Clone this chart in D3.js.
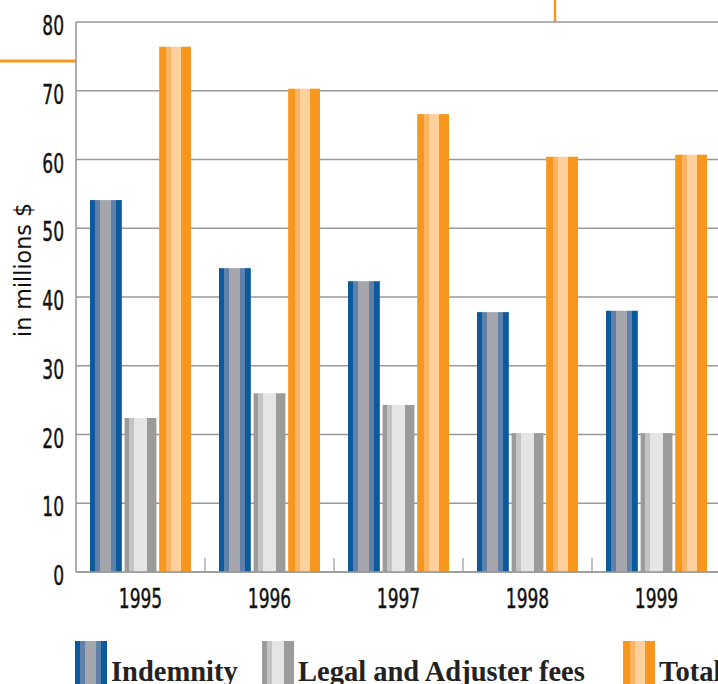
<!DOCTYPE html>
<html>
<head>
<meta charset="utf-8">
<script src="https://cdn.jsdelivr.net/npm/d3@7"></script>
<style>
  body { margin: 0; background: #fff; }
  svg { display: block; }
</style>
</head>
<body>
<div id="chart"></div>
<script>
const years = ['1995', '1996', '1997', '1998', '1999'];
const series = ['Indemnity', 'Legal and Adjuster fees', 'Total'];
const indemnity = [54.1, 44.2, 42.3, 37.8, 38.0];
const legalFees = [22.4, 26.0, 24.3, 20.2, 20.2];
const total = [76.4, 70.3, 66.6, 60.4, 60.7];
const yTicks = [0, 10, 20, 30, 40, 50, 60, 70, 80];

const width = 718, height = 684;
const plotLeft = 76, plotRight = 721, plotTop = 22, plotBottom = 572;

// stripe patterns for each series (offset as fraction, colour)
const stripes = {
  'Indemnity': [[0, '#0b5a9c'], [0.16, '#5f80aa'], [0.31, '#a4a6ab'], [0.66, '#5f80aa'], [0.81, '#0b5a9c']],
  'Legal and Adjuster fees': [[0, '#9b9b9b'], [0.15, '#c4c4c4'], [0.31, '#e5e5e5'], [0.70, '#9b9b9b']],
  'Total': [[0, '#f7971e'], [0.21, '#fbb462'], [0.36, '#fdd09d'], [0.70, '#f7971e']]
};

const rows = years.map((yr, i) => ({
  year: yr,
  values: [indemnity[i], legalFees[i], total[i]]
}));

const svg = d3.select('#chart').append('svg')
  .attr('width', width)
  .attr('height', height);

const defs = svg.append('defs');
series.forEach((s, si) => {
  const g = defs.append('linearGradient')
    .attr('id', 'grad' + si)
    .attr('x1', 0).attr('x2', 1).attr('y1', 0).attr('y2', 0);
  const st = stripes[s];
  st.forEach((d, k) => {
    const end = k < st.length - 1 ? st[k + 1][0] : 1;
    g.append('stop').attr('offset', d[0]).attr('stop-color', d[1]);
    g.append('stop').attr('offset', end).attr('stop-color', d[1]);
  });
});

const y = d3.scaleLinear().domain([0, 80]).range([plotBottom, plotTop]);
const x0 = d3.scaleBand().domain(years).range([plotLeft, plotRight]);
const x1 = d3.scaleBand().domain(series).range([14, 115]).paddingInner(0.08);

// no narrow font installed, so condense DejaVu horizontally
const axisFont = '"DejaVu Sans Condensed", "DejaVu Sans", sans-serif';
const squeeze = 0.73;

// orange decorations
svg.append('line')
  .attr('x1', 0).attr('x2', plotLeft).attr('y1', 61).attr('y2', 61)
  .attr('stroke', '#f7971e').attr('stroke-width', 3);
svg.append('line')
  .attr('x1', 555).attr('x2', 555).attr('y1', 0).attr('y2', plotTop)
  .attr('stroke', '#f7971e').attr('stroke-width', 2.5);

// gridlines
svg.append('g').selectAll('line')
  .data(yTicks)
  .join('line')
  .attr('x1', plotLeft).attr('x2', width)
  .attr('y1', d => y(d)).attr('y2', d => y(d))
  .attr('stroke', '#999').attr('stroke-width', 1.6);

// y axis line
svg.append('line')
  .attr('x1', plotLeft).attr('x2', plotLeft).attr('y1', plotTop).attr('y2', plotBottom)
  .attr('stroke', '#999').attr('stroke-width', 1.6);

// y tick labels
svg.append('g').selectAll('text')
  .data(yTicks)
  .join('text')
  .attr('transform', d => `translate(64,${y(d) + 13}) scale(${squeeze},1)`)
  .attr('text-anchor', 'end')
  .attr('font-family', axisFont)
  .attr('font-size', 26)
  .attr('fill', '#111')
  .attr('stroke', '#111').attr('stroke-width', 0.4)
  .text(d => d);

// y axis title
svg.append('text')
  .attr('transform', 'translate(31,270) rotate(-90) scale(0.95,0.85)')
  .attr('text-anchor', 'middle')
  .attr('font-family', axisFont)
  .attr('font-size', 26)
  .attr('fill', '#111')
  .text('in millions $');

// bars
const groups = svg.append('g').selectAll('g')
  .data(rows)
  .join('g')
  .attr('transform', d => `translate(${x0(d.year)},0)`);

groups.selectAll('rect')
  .data(d => d.values.map((v, i) => ({ key: series[i], idx: i, value: v })))
  .join('rect')
  .attr('x', d => x1(d.key))
  .attr('width', x1.bandwidth())
  .attr('y', d => y(d.value))
  .attr('height', d => y(0) - y(d.value))
  .attr('fill', d => `url(#grad${d.idx})`);

// x axis line + category separators
svg.append('line')
  .attr('x1', plotLeft).attr('x2', width).attr('y1', plotBottom).attr('y2', plotBottom)
  .attr('stroke', '#999').attr('stroke-width', 1.6);
svg.append('g').selectAll('line')
  .data(years.slice(1))
  .join('line')
  .attr('x1', d => x0(d)).attr('x2', d => x0(d))
  .attr('y1', plotBottom - 14).attr('y2', plotBottom)
  .attr('stroke', '#999').attr('stroke-width', 1.2);

// x labels
svg.append('g').selectAll('text')
  .data(years)
  .join('text')
  .attr('transform', d => `translate(${x0(d) + x0.bandwidth() / 2},608) scale(${squeeze},1)`)
  .attr('text-anchor', 'middle')
  .attr('font-family', axisFont)
  .attr('font-size', 26)
  .attr('fill', '#111')
  .attr('stroke', '#111').attr('stroke-width', 0.4)
  .text(d => d);

// legend
const legendX = [75, 262, 623];
const legend = svg.append('g').selectAll('g')
  .data(series)
  .join('g')
  .attr('transform', (d, i) => `translate(${legendX[i]},641)`);

legend.append('rect')
  .attr('width', 32).attr('height', 50)
  .attr('fill', (d, i) => `url(#grad${i})`);

legend.append('text')
  .attr('x', 36)
  .attr('y', 40)
  .attr('font-family', '"Liberation Serif", "DejaVu Serif", serif')
  .attr('font-weight', 'bold')
  .attr('font-size', 28.5)
  .attr('fill', '#222')
  .text(d => d);
</script>
</body>
</html>
